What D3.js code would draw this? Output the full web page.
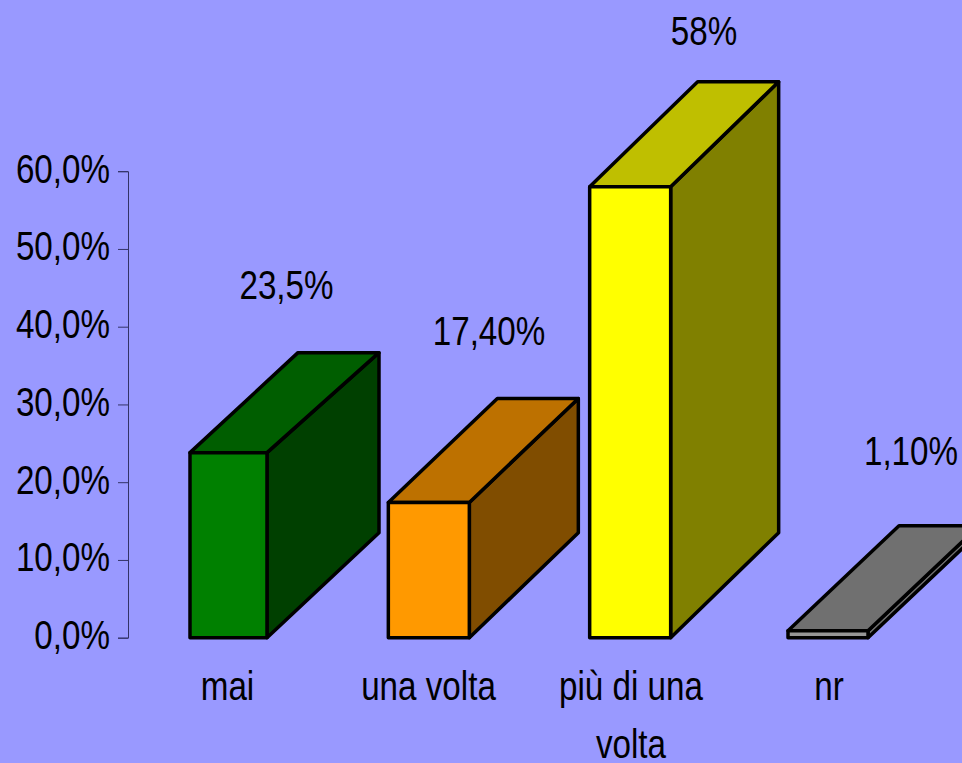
<!DOCTYPE html>
<html>
<head>
<meta charset="utf-8">
<script src="https://d3js.org/d3.v7.min.js"></script>
<style>
  html, body { margin: 0; padding: 0; background: #9999ff; overflow: hidden; }
  svg { display: block; }
  text { font-family: "Liberation Sans", Arial, sans-serif; fill: #000; font-size: 40.5px; }
</style>
</head>
<body>
<svg id="chart" width="962" height="763"></svg>
<script>
const categories = ["mai", "una volta", "più di una volta", "nr"]
// bar heights, the printed labels differ a bit
const values = [23.8, 17.4, 58, 0.9]
const valueLabels = ["23,5%", "17,40%", "58%", "1,10%"]
const categoryLines = [["mai"], ["una volta"], ["più di una", "volta"], ["nr"]]
const tickValues = [0, 10, 20, 30, 40, 50, 60]

// front, top, side colours per bar
const frontColors = ["#008000", "#ff9900", "#ffff00", "#969696"]
const topColors = ["#005e00", "#bd7100", "#bfbf00", "#707070"]
const sideColors = ["#004000", "#804d00", "#808000", "#707070"]

const svg = d3.select("#chart")
const textScale = 0.82 // the labels are a condensed arial

const y = d3.scaleLinear().domain([0, 60]).range([637.7, 171.2])
const x = d3.scaleBand().domain(categories).range([190, 868]).paddingInner(0.5987)

// the bars were drawn by hand in the original, so they sit slightly off the grid
const nudgeLeft = [0, -1, 1, 0]
const nudgeRight = [-3, 0, 2, 0]

// depth of the 3d extrusion, per bar
const depthLeft = [108, 109, 108, 111]
const depthRight = [112, 109, 108, 111]
const depthTop = [-100, -104, -105, -105]
const depthBase = -105

const axis = d3.axisLeft(y)
    .tickValues(tickValues)
    .tickSize(10)
    .tickFormat(d => d3.format(".1f")(d).replace(".", ",") + "%")

const axisG = svg.append("g")
    .attr("transform", "translate(128,0)")
    .call(axis)
axisG.select(".domain").attr("stroke", "#333366")
axisG.selectAll("line").attr("stroke", "#333366")
axisG.selectAll("text")
    .attr("x", -18 / textScale)
    .attr("dy", "11px")
    .attr("transform", `scale(${textScale},1)`)

categories.forEach((c, i) => {
    const g = svg.append("g")
    const x0 = x(c) + nudgeLeft[i]
    const x1 = x(c) + x.bandwidth() + nudgeRight[i]
    const yTop = y(values[i]), yBase = y(0)
    const line = d3.line()
    const backLeft = x0 + depthLeft[i], backRight = x1 + depthRight[i]
    const backTop = yTop + depthTop[i]

    g.append("path") // side
        .attr("d", line([[x1, yBase], [backRight, yBase + depthBase], [backRight, backTop], [x1, yTop]]) + "Z")
        .attr("fill", sideColors[i])
    g.append("path") // top
        .attr("d", line([[x0, yTop], [backLeft, backTop], [backRight, backTop], [x1, yTop]]) + "Z")
        .attr("fill", topColors[i])
    g.append("rect") // front
        .attr("x", x0).attr("y", yTop)
        .attr("width", x1 - x0).attr("height", yBase - yTop)
        .attr("fill", frontColors[i])
    g.selectAll("path, rect")
        .attr("stroke", "#000")
        .attr("stroke-width", 3.5)
        .attr("stroke-linejoin", "round")
})

// squeezed text, centred at x
function label(t, tx, ty) {
    svg.append("text")
        .attr("transform", `translate(${tx},${ty}) scale(${textScale},1)`)
        .attr("text-anchor", "middle")
        .text(t)
}

const labelX = [286.5, 489, 704, 911]
const labelY = [299, 345, 45, 465]
valueLabels.forEach((t, i) => label(t, labelX[i], labelY[i]))

const catX = [227.5, 428.5, 631, 829]
categoryLines.forEach((lines, i) => {
    lines.forEach((t, j) => label(t, catX[i], 700 + j * 58))
})
</script>
</body>
</html>
